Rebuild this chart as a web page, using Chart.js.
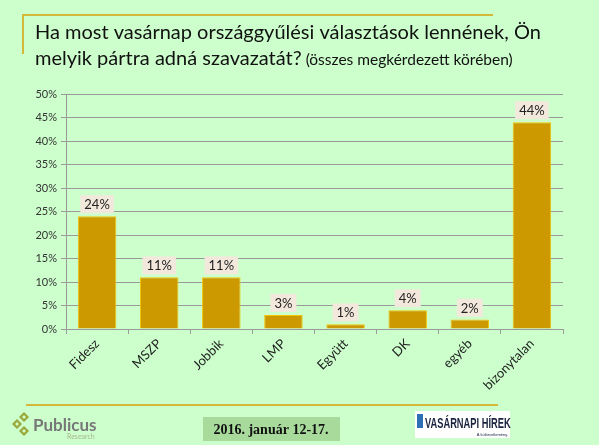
<!DOCTYPE html>
<html>
<head>
<meta charset="utf-8">
<script src="https://cdn.jsdelivr.net/npm/chart.js@4"></script>
<style>
  html, body { margin: 0; padding: 0; background: #CCFFCC; }
  #wrap { width: 599px; height: 445px; position: relative; }
</style>
</head>
<body>
<div id="wrap"><canvas id="barChart" width="599" height="445"></canvas></div>
<script>
// chart values
const parties = ['Fidesz', 'MSZP', 'Jobbik', 'LMP', 'Együtt', 'DK', 'egyéb', 'bizonytalan'];
const shares = [24, 11, 11, 3, 1, 4, 2, 44];
const yTicks = [0, 5, 10, 15, 20, 25, 30, 35, 40, 45, 50];

const titleLine1 = 'Ha most vasárnap országgyűlési választások lennének, Ön';
const titleLine2 = 'melyik pártra adná szavazatát?';
const titleNote = ' (összes megkérdezett körében)';
const dateText = '2016. január 12-17.';

const baseFont = 'Lato, "Open Sans", sans-serif';

// title, frame lines and footer
const decorations = {
    id: 'decorations',
    beforeDraw(chart) {
        const c = chart.ctx;
        c.save();
        c.fillStyle = '#CCFFCC';
        c.fillRect(0, 0, chart.width, chart.height);

        // gold frame lines
        c.strokeStyle = '#D4B83A';
        c.lineWidth = 2;
        c.beginPath();
        c.moveTo(23, 54); c.lineTo(23, 15); c.lineTo(493, 15);
        c.stroke();
        c.beginPath();
        c.moveTo(26, 405); c.lineTo(498, 405);
        c.stroke();

        // title
        c.fillStyle = '#111';
        c.textBaseline = 'alphabetic';
        c.font = '20px ' + baseFont;
        c.fillText(titleLine1, 35, 39);
        c.fillText(titleLine2, 35, 65);
        const w = c.measureText(titleLine2).width;
        c.font = '15.5px ' + baseFont;
        c.fillText(titleNote, 35 + w, 65);
        c.restore();
    },
    afterDraw(chart) {
        const c = chart.ctx;
        c.save();
        // date box
        c.fillStyle = '#A7DA9B';
        c.fillRect(203, 417, 137, 24);
        c.fillStyle = '#111';
        c.font = 'bold 14px "Liberation Serif", "DejaVu Serif", serif';
        c.textAlign = 'center';
        c.textBaseline = 'middle';
        c.fillText(dateText, 271, 430);

        // Publicus logo
        c.fillStyle = '#9AA83A';
        const dia = (x, y, s) => {
            c.beginPath();
            c.moveTo(x, y - s); c.lineTo(x + s, y); c.lineTo(x, y + s); c.lineTo(x - s, y);
            c.closePath(); c.fill();
        };
        dia(24, 417, 5); dia(17, 424, 5); dia(24, 431, 5);
        c.fillStyle = '#CCFFCC';
        dia(24, 417, 2); dia(17, 424, 2); dia(24, 431, 2);
        c.fillStyle = '#777';
        c.textAlign = 'left';
        c.textBaseline = 'alphabetic';
        c.font = 'bold 17px ' + baseFont;
        c.fillText('Publicus', 33, 431);
        c.fillStyle = '#A8B888';
        c.font = '7px ' + baseFont;
        c.fillText('Research', 67, 439);

        // Vasárnapi Hírek logo
        c.fillStyle = '#FFFFFF';
        c.fillRect(415, 411, 95, 27);
        c.fillStyle = '#2E6FB5';
        c.fillRect(417, 414, 6, 14);
        c.fillStyle = '#1A2440';
        c.save();
        c.translate(425, 428);
        c.scale(0.62, 1);
        c.font = 'bold 15px "Liberation Sans", sans-serif';
        c.fillText('VASÁRNAPI HÍREK', 0, 0);
        c.restore();
        c.font = '4px sans-serif';
        c.textAlign = 'right';
        c.fillText('A különvélemény.', 508, 436);
        c.restore();
    }
};

// value boxes above the bars
const valueBoxes = {
    id: 'valueBoxes',
    afterDatasetsDraw(chart) {
        const c = chart.ctx;
        const meta = chart.getDatasetMeta(0);
        c.save();
        c.font = '13px ' + baseFont;
        c.textAlign = 'center';
        c.textBaseline = 'middle';
        meta.data.forEach((bar, i) => {
            const label = shares[i] + '%';
            const bw = c.measureText(label).width + 8;
            const bh = 18;
            const top = bar.y - 3 - bh;
            c.fillStyle = '#F2E8DC';
            c.fillRect(bar.x - bw / 2, top, bw, bh);
            c.fillStyle = '#222';
            c.fillText(label, bar.x, top + bh / 2 + 1);
        });
        c.restore();
    }
};

const ctx = document.getElementById('barChart').getContext('2d');
const barChart = new Chart(ctx, {
    type: 'bar',
    data: {
        labels: parties,
        datasets: [{
            data: shares,
            backgroundColor: '#CC9900',
            borderColor: '#F5C400',
            borderWidth: 1,
            barPercentage: 0.62,
            categoryPercentage: 1.0
        }]
    },
    options: {
        responsive: false,
        animation: false,
        layout: { padding: { left: 0, top: 94, right: 36, bottom: 0 } },
        plugins: {
            legend: { display: false },
            tooltip: { enabled: false }
        },
        scales: {
            y: {
                min: 0,
                max: 50,
                afterFit(scale) { scale.width = 66; },
                afterBuildTicks(scale) { scale.ticks = yTicks.map(v => ({ value: v })); },
                ticks: {
                    color: '#333',
                    font: { size: 11, family: baseFont },
                    padding: 4,
                    callback: v => v + '%'
                },
                grid: { color: '#9A9A9A', tickLength: 5, lineWidth: 1 },
                border: { color: '#9A9A9A' }
            },
            x: {
                afterFit(scale) { scale.height = 116; },
                ticks: {
                    color: '#222',
                    font: { size: 13, family: baseFont },
                    maxRotation: 45,
                    minRotation: 45,
                    padding: 2
                },
                grid: { drawOnChartArea: false, color: '#9A9A9A', tickLength: 5, offset: true },
                border: { color: '#9A9A9A' }
            }
        }
    },
    plugins: [decorations, valueBoxes]
});
</script>
</body>
</html>
